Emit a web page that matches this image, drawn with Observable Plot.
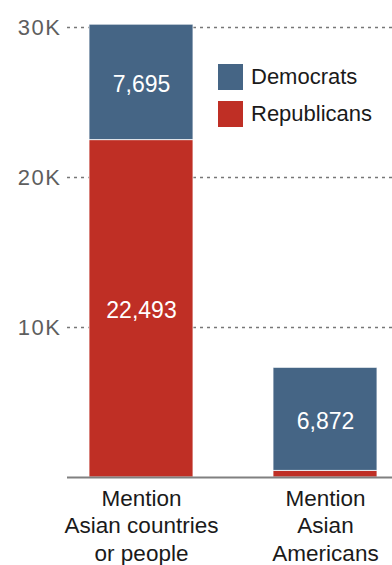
<!DOCTYPE html>
<html><head><meta charset="utf-8">
<script src="https://cdn.jsdelivr.net/npm/d3@7"></script>
<script src="https://cdn.jsdelivr.net/npm/@observablehq/plot@0.6"></script>
<style>
body{margin:0;background:#fff;font-family:"Liberation Sans",Arial,sans-serif;}
#wrap{position:relative;width:392px;height:565px;overflow:hidden;}
#wrap svg{position:absolute;left:0;top:0;overflow:visible;}
#wrap svg g[aria-label="y-axis tick label"] text{letter-spacing:1.5px;}
.legend{position:absolute;left:218px;top:64px;}
.item{display:flex;align-items:center;height:26px;margin-bottom:11px;font-size:22px;color:#1a1a1a}
.sw{width:25px;height:26px;margin-right:8px}
</style></head><body><div id="wrap"></div>
<script>
const categories = ["Mention\nAsian countries\nor people", "Mention\nAsian\nAmericans"];
const parties = ["Republicans", "Democrats"];
const republicans = [22493, 440];
const democrats = [7695, 6872];
const partyColors = ["#bf2f25", "#456585"];
const yTicks = [10000, 20000, 30000];
const yTickLabels = ["10K", "20K", "30K"];
const legendOrder = ["Democrats", "Republicans"];

const rows = [];
categories.forEach((c, i) => {
  rows.push({category: c, party: "Republicans", value: republicans[i]});
  rows.push({category: c, party: "Democrats", value: democrats[i]});
});

const chart = Plot.plot({
  width: 392,
  height: 565,
  marginLeft: 67,
  marginRight: 0,
  marginTop: 27,
  marginBottom: 88,
  style: {fontFamily: '"Liberation Sans", Arial, sans-serif', background: "transparent"},
  x: {domain: categories, range: [88.7, 377], paddingInner: 0.4348, paddingOuter: 0, label: null},
  y: {domain: [0, 30000], label: null},
  color: {domain: parties, range: partyColors},
  marks: [
    Plot.ruleY(yTicks, {stroke: "#777", strokeDasharray: "3,4", strokeWidth: 1.3}),
    Plot.barY(rows, Plot.stackY({x: "category", y: "value", fill: "party", stroke: "white", strokeWidth: 1, strokeOpacity: 0.8})),
    Plot.text(rows, Plot.stackY({x: "category", y: "value", z: "party",
      text: d => d.value > 1000 ? d3.format(",")(d.value) : "",
      fill: "white", fontSize: 23, dy: 2})),
    Plot.ruleY([0], {stroke: "#808080", strokeWidth: 2}),
    Plot.axisY(yTicks, {tickSize: 0, tickPadding: 6, fontSize: 22, fill: "#5e5e5e",
      tickFormat: d => yTickLabels[yTicks.indexOf(d)], label: null}),
    Plot.axisX({tickSize: 0, tickPadding: 9, fontSize: 22.5, fill: "#1a1a1a", lineHeight: 1.22, label: null})
  ]
});

const wrap = document.getElementById("wrap");
wrap.appendChild(chart);
const legend = document.createElement("div");
legend.className = "legend";
legendOrder.forEach(p => {
  const it = document.createElement("div");
  it.className = "item";
  const sw = document.createElement("div");
  sw.className = "sw";
  sw.style.background = partyColors[parties.indexOf(p)];
  const t = document.createElement("span");
  t.textContent = p;
  it.appendChild(sw); it.appendChild(t);
  legend.appendChild(it);
});
wrap.appendChild(legend);
</script></body></html>
